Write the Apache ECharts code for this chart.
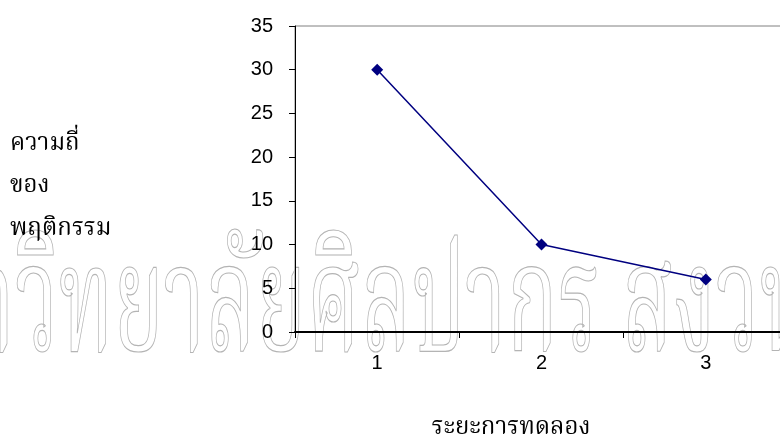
<!DOCTYPE html>
<html><head><meta charset="utf-8">
<script src="https://cdn.jsdelivr.net/npm/echarts@6/dist/echarts.min.js"></script>
<style>html,body{margin:0;padding:0;background:#fff}#c{width:780px;height:441px}</style>
</head><body><div id="c"></div>
<script>
const categories = ['1', '2', '3'];
const values = [30, 10, 6];
const yNameLines = ['ความถี่', 'ของ', 'พฤติกรรม'];
const xName = 'ระยะการทดลอง';
const watermark = 'มหาวิทยาลัยศิลปากร สงวนลิขสิทธิ์';

const thaiFont = "'Noto Serif Thai','Norasi','Angsana New','Loma','Garuda','Tlwg Typo','DejaVu Serif',serif";
const wmSize = 150;
const wmFont = wmSize + "px " + thaiFont;
// measure watermark layout so that 'วิ' starts at x=15 and 'ส' at x=622
const cv = document.createElement('canvas').getContext('2d');
cv.font = wmFont;
const wPre = cv.measureText('มหา').width;
const wToS = cv.measureText('มหาวิทยาลัยศิลปากร ').width;
const sx = (622 - 15) / (wToS - wPre);
const wmX = 15 - wPre * sx;

const chart = echarts.init(document.getElementById('c'), null, {renderer: 'canvas'});
const graphics = [
  {type: 'text', x: wmX, y: 251, scaleX: sx, scaleY: 1, z: 0, silent: true,
   style: {text: watermark, font: wmFont, fill: 'rgba(0,0,0,0)', stroke: '#b4b4b4', lineWidth: 1.2}}
];
const yCenters = [146, 188, 231];
yNameLines.forEach((t, i) => {
  graphics.push({type: 'text', x: 10, y: yCenters[i], z: 10,
    style: {text: t, font: "24px " + thaiFont, fill: '#000', verticalAlign: 'middle'}});
});
graphics.push({type: 'text', x: 511, y: 430, z: 10,
  style: {text: xName, font: "24px " + thaiFont, fill: '#000', align: 'center', verticalAlign: 'middle'}});

chart.setOption({
  animation: false,
  grid: {left: 295, top: 26, width: 493, bottom: 109, outerBoundsMode: 'none', containLabel: false,
         show: true, borderColor: '#808080', borderWidth: 1, backgroundColor: 'transparent'},
  xAxis: {
    type: 'category', data: categories, boundaryGap: true,
    axisLine: {lineStyle: {color: '#000', width: 2}},
    axisTick: {show: true, inside: false, length: 6, lineStyle: {color: '#000'}},
    axisLabel: {color: '#000', fontSize: 20, fontFamily: 'Liberation Sans, Arial', margin: 21}
  },
  yAxis: {
    type: 'value', min: 0, max: 35, interval: 5,
    axisLine: {show: true, lineStyle: {color: '#000', width: 1}},
    axisTick: {show: true, inside: false, length: 6, lineStyle: {color: '#000'}},
    axisLabel: {color: '#000', fontSize: 20, fontFamily: 'Liberation Sans, Arial', margin: 22},
    splitLine: {show: false}
  },
  series: [{
    type: 'line', data: values, symbol: 'diamond', symbolSize: 12,
    lineStyle: {color: '#000080', width: 1.5},
    itemStyle: {color: '#000080'}
  }],
  graphic: graphics
});
</script></body></html>
